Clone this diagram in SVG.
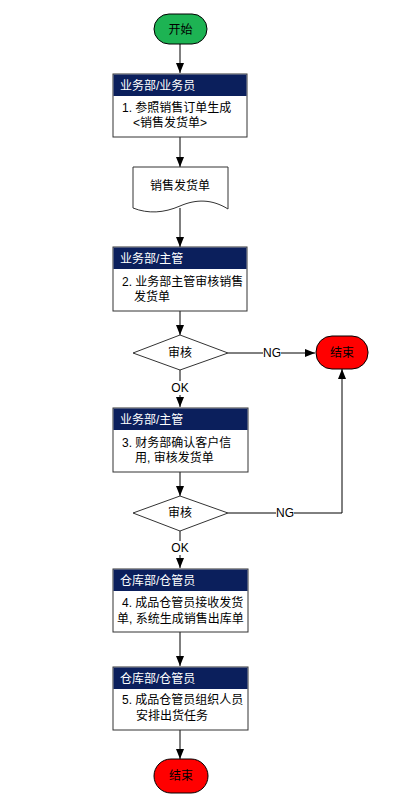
<svg xmlns="http://www.w3.org/2000/svg" width="410" height="808" viewBox="0 0 410 808">
<style>
text{font-family:"Liberation Sans","Noto Sans CJK SC",sans-serif;font-size:12px;fill:#000}
.hd{fill:#fff}
.c{text-anchor:middle}
.box{fill:#fff;stroke:#333;stroke-width:1}
.bar{fill:#0b1f5c}
.ln{fill:none;stroke:#000;stroke-width:1}
.sh{stroke:#000;stroke-width:1}
</style>
<defs>
<marker id="ar" markerWidth="10" markerHeight="8" refX="10" refY="4" orient="auto" markerUnits="userSpaceOnUse">
<path d="M0,0 L10,4 L0,8 Z" fill="#000"/>
</marker>
</defs>
<g id="connectors">
<line class="ln" x1="180" y1="44" x2="180" y2="73" marker-end="url(#ar)"/>
<line class="ln" x1="180" y1="137" x2="180" y2="167" marker-end="url(#ar)"/>
<line class="ln" x1="180" y1="208" x2="180" y2="247" marker-end="url(#ar)"/>
<line class="ln" x1="180" y1="311" x2="180" y2="335" marker-end="url(#ar)"/>
<line class="ln" x1="228" y1="353" x2="315" y2="353" marker-end="url(#ar)"/>
<line class="ln" x1="180" y1="370" x2="180" y2="407" marker-end="url(#ar)"/>
<line class="ln" x1="180" y1="472" x2="180" y2="496" marker-end="url(#ar)"/>
<polyline class="ln" points="228,513 342,513 342,369" marker-end="url(#ar)"/>
<line class="ln" x1="180" y1="531" x2="180" y2="568" marker-end="url(#ar)"/>
<line class="ln" x1="180" y1="632" x2="180" y2="666" marker-end="url(#ar)"/>
<line class="ln" x1="180" y1="730" x2="180" y2="759" marker-end="url(#ar)"/>
<rect x="263" y="346" width="18" height="14" fill="#fff"/>
<text class="c" x="272" y="357">NG</text>
<rect x="276" y="506" width="18" height="14" fill="#fff"/>
<text class="c" x="285" y="517">NG</text>
<rect x="171" y="381" width="18" height="14" fill="#fff"/>
<text class="c" x="180" y="392">OK</text>
<rect x="171" y="541" width="18" height="14" fill="#fff"/>
<text class="c" x="180" y="552">OK</text>
</g>
<g id="start">
<rect x="154" y="14" width="53" height="30" rx="15" ry="15" fill="#1db353" class="sh"/>
<text class="c" x="180.5" y="33.5">开始</text>
</g>
<g id="step1">
<rect class="box" x="113" y="74" width="134" height="63"/>
<rect class="bar" x="113.5" y="74.5" width="133" height="21.5"/>
<text class="hd" x="120" y="90">业务部/业务员</text>
<text x="122" y="112">1. 参照销售订单生成</text>
<text x="133" y="127">&lt;销售发货单&gt;</text>
</g>
<g id="doc">
<path class="box" d="M133,167 H228 V209 C212,199 196,199 180,206 C164,213 148,214 133,208 Z"/>
<text class="c" x="180" y="190">销售发货单</text>
</g>
<g id="step2">
<rect class="box" x="113" y="247" width="134" height="64"/>
<rect class="bar" x="113.5" y="247.5" width="133" height="21.5"/>
<text class="hd" x="120" y="263">业务部/主管</text>
<text x="122" y="286">2. 业务部主管审核销售</text>
<text x="134" y="301">发货单</text>
</g>
<g id="check1">
<polygon class="box" points="133,353 180,335 228,353 180,370"/>
<text class="c" x="180" y="357">审核</text>
</g>
<g id="end1">
<rect x="316" y="336" width="52" height="33" rx="16" ry="16" fill="#ff0000" class="sh"/>
<text class="c" x="342" y="357">结束</text>
</g>
<g id="step3">
<rect class="box" x="113" y="408" width="135" height="64"/>
<rect class="bar" x="113.5" y="408.5" width="134" height="21.5"/>
<text class="hd" x="120" y="424">业务部/主管</text>
<text x="122" y="447">3. 财务部确认客户信</text>
<text x="135" y="462">用, 审核发货单</text>
</g>
<g id="check2">
<polygon class="box" points="133,513 180,496 228,513 180,531"/>
<text class="c" x="180" y="517">审核</text>
</g>
<g id="step4">
<rect class="box" x="113" y="569" width="135" height="63"/>
<rect class="bar" x="113.5" y="569.5" width="134" height="21.5"/>
<text class="hd" x="120" y="585">仓库部/仓管员</text>
<text x="122" y="607">4. 成品仓管员接收发货</text>
<text x="117" y="623">单, 系统生成销售出库单</text>
</g>
<g id="step5">
<rect class="box" x="113" y="667" width="135" height="63"/>
<rect class="bar" x="113.5" y="667.5" width="134" height="21.5"/>
<text class="hd" x="120" y="683">仓库部/仓管员</text>
<text x="122" y="704">5. 成品仓管员组织人员</text>
<text x="136" y="720">安排出货任务</text>
</g>
<g id="end2">
<rect x="154" y="759" width="54" height="34" rx="17" ry="17" fill="#ff0000" class="sh"/>
<text class="c" x="181" y="780">结束</text>
</g>
</svg>
